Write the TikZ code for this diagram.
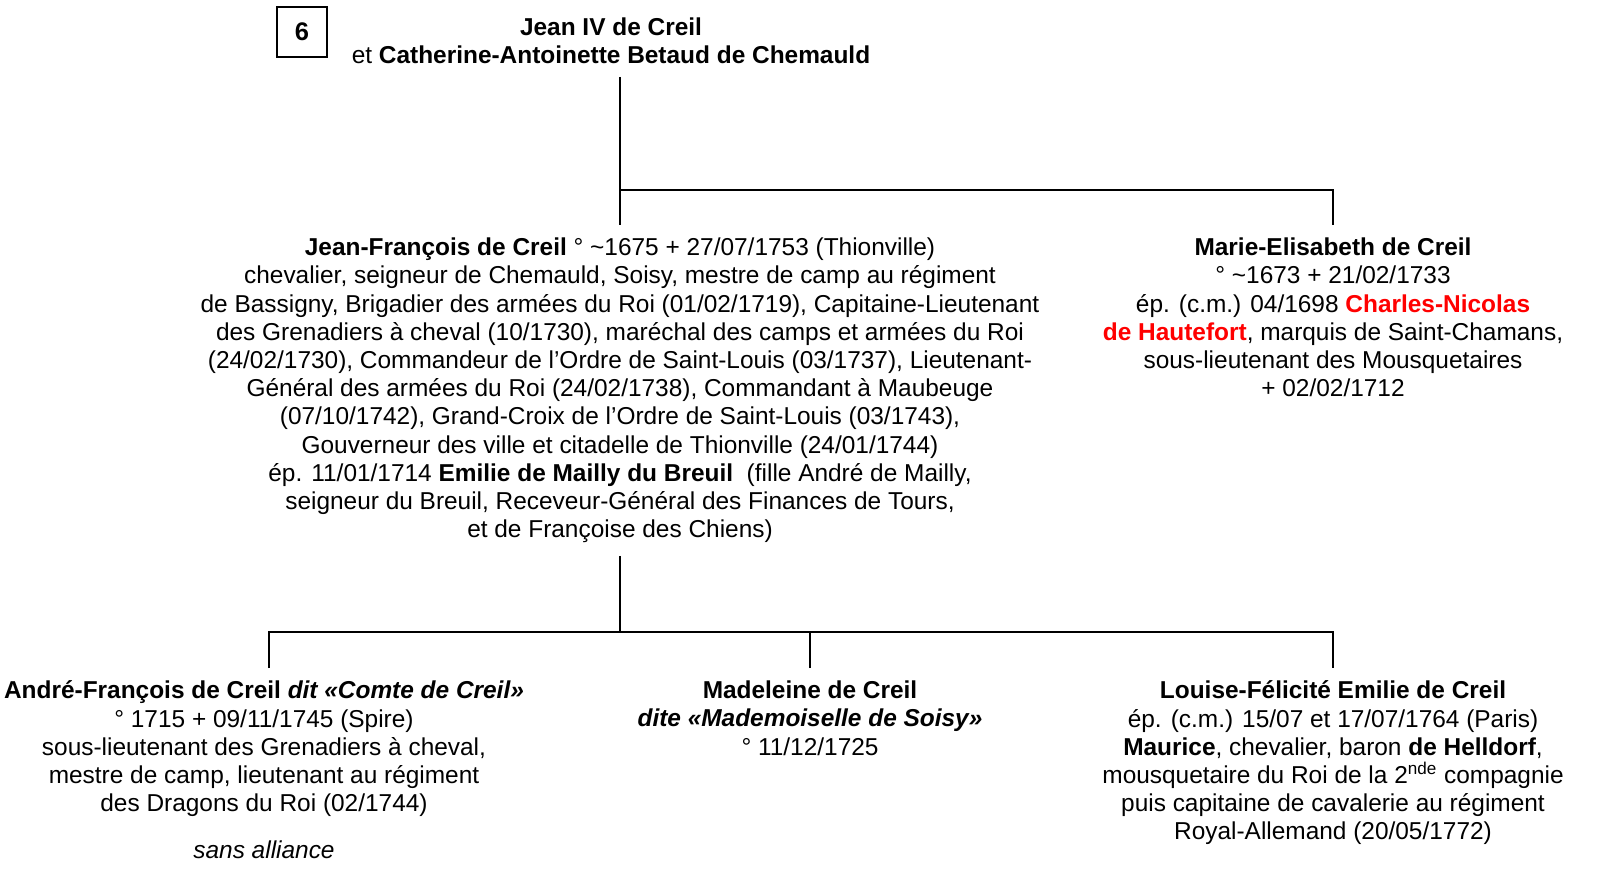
\documentclass[tikz,border=0pt]{standalone}
\usepackage{fontspec}
\setmainfont{Liberation Sans}
\usepackage{xcolor}
\newcommand{\redname}[1]{\textcolor{red}{\bfseries #1}}
\tikzset{
  person/.style={align=center, inner sep=0pt, outer ysep=7.4pt, anchor=north},
  link/.style={line width=1.1pt}
}
\begin{document}
\begin{tikzpicture}[font=\fontsize{13.9pt}{16.05pt}\selectfont]
  \def\Xl{5.28}
  \def\Xm{12.4}
  \def\Xc{16.2}
  \def\Xr{26.66}
  \def\Ytop{-4.5} % first generation
  \def\Ybar{-3.8}
  \def\Ylow{-13.36} % second generation
  \def\Ybarb{-12.64}
  \useasboundingbox (0,0) rectangle (32.08,-17.58);

  % number of the table
  \node[draw, line width=0.8pt, minimum size=1cm, inner sep=0pt, font=\fontsize{14.5pt}{16pt}\selectfont\bfseries] (num) at (6.04,-0.64) {6};

  % parents
  \node[person, anchor=south] (parents) at (12.22,-1.54)
    {{\bfseries Jean IV de Creil}\\ et {\bfseries Catherine-Antoinette Betaud de Chemauld}};

  % children
  \node[person] (jf) at (\Xm,\Ytop)
    {{\bfseries Jean-François de Creil} ° \textasciitilde1675 + 27/07/1753 (Thionville)\\
     chevalier, seigneur de Chemauld, Soisy, mestre de camp au régiment\\
     de Bassigny, Brigadier des armées du Roi (01/02/1719), Capitaine-Lieutenant\\
     des Grenadiers à cheval (10/1730), maréchal des camps et armées du Roi\\
     (24/02/1730), Commandeur de l’Ordre de Saint-Louis (03/1737), Lieutenant-\\
     Général des armées du Roi (24/02/1738), Commandant à Maubeuge\\
     (07/10/1742), Grand-Croix de l’Ordre de Saint-Louis (03/1743),\\
     Gouverneur des ville et citadelle de Thionville (24/01/1744)\\
     ép. 11/01/1714 {\bfseries Emilie de Mailly du Breuil}~ (fille André de Mailly,\\
     seigneur du Breuil, Receveur-Général des Finances de Tours,\\
     et de Françoise des Chiens)};
  \node[person] (me) at (\Xr,\Ytop)
    {{\bfseries Marie-Elisabeth de Creil}\\
     ° \textasciitilde1673 + 21/02/1733\\
     ép. (c.m.) 04/1698 \redname{Charles-Nicolas}\\
     \redname{de Hautefort}, marquis de Saint-Chamans,\\
     sous-lieutenant des Mousquetaires\\
     + 02/02/1712};

  % grandchildren
  \node[person] (af) at (\Xl,\Ylow)
    {{\bfseries André-François de Creil \itshape dit «Comte de Creil»}\\
     ° 1715 + 09/11/1745 (Spire)\\
     sous-lieutenant des Grenadiers à cheval,\\
     mestre de camp, lieutenant au régiment\\
     des Dragons du Roi (02/1744)\\[10.8pt]
     {\itshape sans alliance}};
  \node[person] (md) at (\Xc,\Ylow)
    {{\bfseries Madeleine de Creil}\\
     {\bfseries\itshape dite «Mademoiselle de Soisy»}\\
     ° 11/12/1725};
  \node[person] (lf) at (\Xr,\Ylow)
    {{\bfseries Louise-Félicité Emilie de Creil}\\
     ép. (c.m.) 15/07 et 17/07/1764 (Paris)\\
     {\bfseries Maurice}, chevalier, baron {\bfseries de Helldorf},\\
     mousquetaire du Roi de la 2\textsuperscript{nde} compagnie\\
     puis capitaine de cavalerie au régiment\\
     Royal-Allemand (20/05/1772)};

  % links
  \coordinate (bar) at (\Xm,\Ybar);
  \coordinate (barb) at (\Xm,\Ybarb);
  \coordinate (afdrop) at (5.38,\Ylow);
  \draw[link] (parents.south -| jf.north) -- (jf.north);
  \draw[link] (bar) -| (me.north);
  \draw[link] (jf.south) -- (barb);
  \draw[link] (afdrop) |- (barb) -| (lf.north);
  \draw[link] (md.north) -- (md.north |- barb);
\end{tikzpicture}
\end{document}
